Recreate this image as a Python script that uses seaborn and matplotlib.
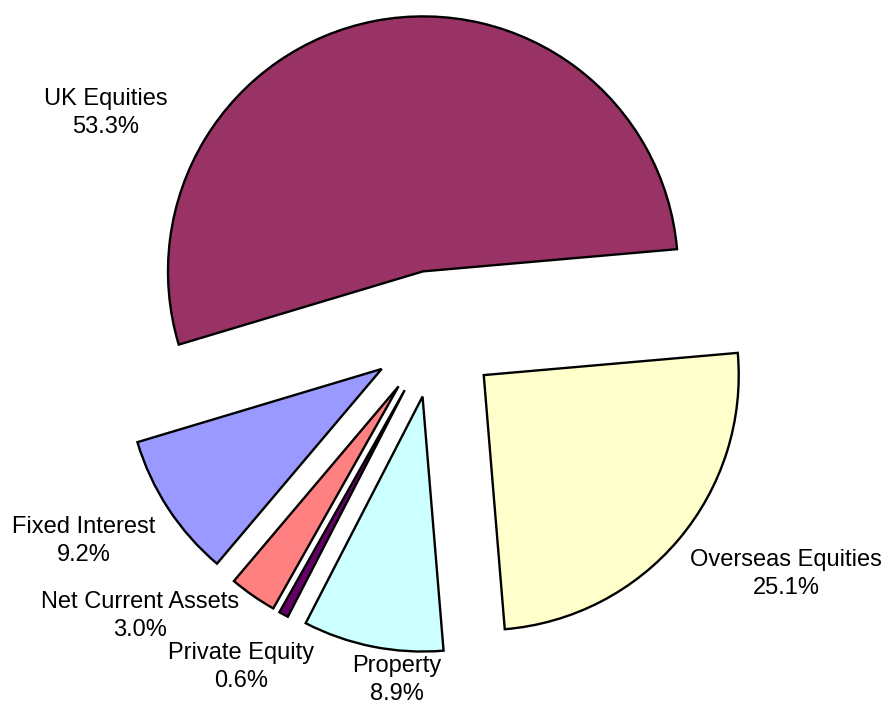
import numpy as np
import matplotlib
matplotlib.use("Agg")
import matplotlib.pyplot as plt
import seaborn as sns

# ---- data ----
categories = ["UK Equities", "Fixed Interest", "Net Current Assets",
              "Private Equity", "Property", "Overseas Equities"]
values = [53.3, 9.2, 3.0, 0.6, 8.9, 25.1]
pct_labels = ["53.3%", "9.2%", "3.0%", "0.6%", "8.9%", "25.1%"]
colors = ["#993366", "#9999FF", "#FF8080", "#660066", "#CCFFFF", "#FFFFCC"]

# label centres in figure pixels (x, y from top)
label_px = [(106, 113), (84, 541), (140, 616), (241, 667), (397, 680), (786, 574)]

sns.set_theme(style="white")
plt.rcParams["font.family"] = ["Liberation Sans", "DejaVu Sans"]

W, H = 890, 704
R_PX = 255.0
CX, CY = 435.0, 334.0

fig = plt.figure(figsize=(W / 100, H / 100), dpi=100)
ax = fig.add_axes([0, 0, 1, 1])

ax.pie(values, colors=colors, startangle=5, counterclock=True,
       explode=[0.25] * len(values), radius=1.0,
       wedgeprops=dict(edgecolor="black", linewidth=1.7))

ax.set_xlim(-CX / R_PX, (W - CX) / R_PX)
ax.set_ylim(-(H - CY) / R_PX, CY / R_PX)
ax.set_aspect("equal")
ax.axis("off")

for name, pct, (px, py) in zip(categories, pct_labels, label_px):
    x = (px - CX) / R_PX
    y = (CY - py) / R_PX
    ax.text(x, y, f"{name}\n{pct}", ha="center", va="center",
            fontsize=17, color="black", linespacing=1.3)

fig.savefig("out.png", dpi=100, facecolor="white")
